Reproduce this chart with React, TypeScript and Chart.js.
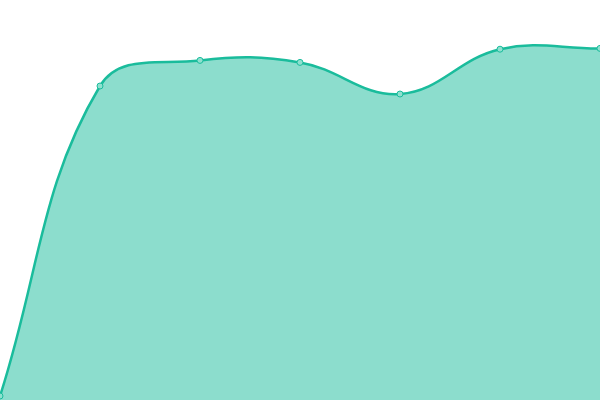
import React, { useEffect, useRef } from "react";
import { Chart, registerables } from "chart.js";

Chart.register(...registerables);

const labels = ["A", "B", "C", "D", "E", "F", "G"];
const values = [1, 78.5, 84.9, 84.4, 76.5, 87.7, 87.9];

export default function App() {
  const ref = useRef<HTMLCanvasElement | null>(null);
  useEffect(() => {
    document.body.style.margin = "0";
    const chart = new Chart(ref.current!, {
      type: "line",
      data: {
        labels,
        datasets: [
          {
            data: values,
            borderColor: "#1abc9c",
            backgroundColor: "rgba(26,188,156,0.5)",
            pointBackgroundColor: "#8fe0cf",
            pointBorderColor: "#1abc9c",
            pointRadius: 3,
            pointBorderWidth: 1,
            borderWidth: 2.5,
            fill: true,
            tension: 0.4,
          },
        ],
      },
      options: {
        animation: false,
        responsive: false,
        maintainAspectRatio: false,
        layout: { padding: 0, autoPadding: false },
        plugins: { legend: { display: false }, tooltip: { enabled: false } },
        scales: {
          x: { display: false, offset: false },
          y: { display: false, min: 0, max: 100 },
        },
      },
    });
    return () => chart.destroy();
  }, []);
  return (
    <div style={{ position: "absolute", left: 0, top: 0, width: 600, height: 400 }}>
      <canvas ref={ref} width={600} height={400} />
    </div>
  );
}
